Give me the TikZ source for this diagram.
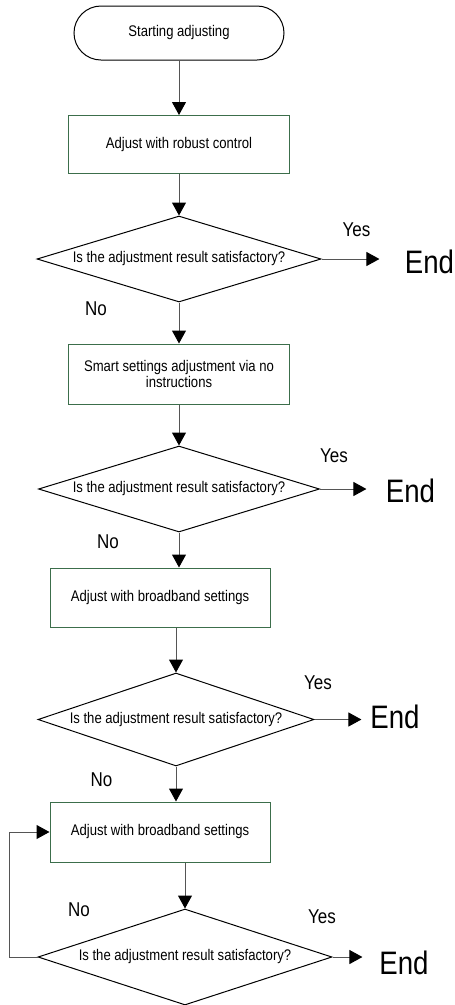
\documentclass[tikz,border=0pt]{standalone}
\usepackage{fontspec}
\setmainfont[FakeStretch=0.85]{Liberation Sans}
\usetikzlibrary{arrows.meta,shapes.geometric}
\definecolor{boxline}{RGB}{60,110,75}
\definecolor{wire}{RGB}{85,85,85}
\tikzset{
  term/.style={draw=black, rounded corners=27pt, minimum width=210pt,
               minimum height=54pt, inner sep=0pt},
  stepbox/.style={draw=boxline, minimum width=221pt, minimum height=58pt,
               inner sep=0pt, align=center},
  ask/.style={draw=black, diamond, aspect=3.3, inner sep=0pt},
  flow/.style={-{Triangle[length=13pt,width=14pt,color=black]}, wire},
  big/.style={font=\fontsize{32.5}{34}\selectfont, inner sep=0pt, anchor=base},
  tag/.style={font=\fontsize{20}{22}\selectfont, inner sep=0pt, anchor=base},
}

\begin{document}
\begin{tikzpicture}[x=1pt, y=-1pt, line width=1pt,
      font=\fontsize{15.4}{14}\selectfont]
  \useasboundingbox (0,0) rectangle (455,1005);
  % steps and questions
  \node[term] (st) at (179,33) {Starting adjusting};
  \node[stepbox] (a1) at (179,144.5) {Adjust with robust control};
  \node[ask, minimum width=284pt, minimum height=86pt] (q1) at (179,259) {Is the adjustment result satisfactory?};
  \node[stepbox, minimum height=60pt] (a2) at (179,374) {Smart settings adjustment via no\\instructions};
  \node[ask, minimum width=281pt, minimum height=86pt] (q2) at (179,489) {Is the adjustment result satisfactory?};
  \node[stepbox, minimum width=220pt, minimum height=59pt] (a3) at (160,597.5) {Adjust with broadband settings};
  \node[ask, minimum width=276pt, minimum height=93pt] (q3) at (176,719.5) {Is the adjustment result satisfactory?};
  \node[stepbox, minimum width=220pt, minimum height=60pt] (a4) at (160,832) {Adjust with broadband settings};
  \node[ask, minimum width=294pt, minimum height=96pt] (q4) at (185,957) {Is the adjustment result satisfactory?};
  % end marks
  \node[big] (e1) at (429.5,273) {End};
  \node[big] (e2) at (410.5,502) {End};
  \node[big] (e3) at (395,728) {End};
  \node[big] (e4) at (404,974) {End};
  % yes / no
  \node[tag] (y1) at (356.5,236) {Yes};
  \node[tag] (n1) at (96,315) {No};
  \node[tag] (y2) at (334,462) {Yes};
  \node[tag] (n2) at (108,548) {No};
  \node[tag] (y3) at (318,689) {Yes};
  \node[tag] (n3) at (101.5,786) {No};
  \node[tag] (y4) at (322,923) {Yes};
  \node[tag] (n4) at (79,916) {No};
  % connectors
  \draw[flow] (st) -- (a1);
  \draw[flow] (a1) -- (q1);
  \draw[flow] (q1) -- (a2);
  \draw[flow] (a2) -- (q2);
  \draw[flow] (q2.south) -- (q2.south |- a3.north);
  \draw[flow] (q3.north |- a3.south) -- (q3.north);
  \draw[flow] (q3.south) -- (q3.south |- a4.north);
  \draw[flow] (q4.north |- a4.south) -- (q4.north);
  \draw[flow] (q4.west) -- ++(-28,0) |- (a4.west);
  \draw[flow, shorten >=25pt] (q1.east) -- (q1.east -| e1.west);
  \draw[flow, shorten >=19pt] (q2.east) -- (q2.east -| e2.west);
  \draw[flow, shorten >=8.5pt] (q3.east) -- (q3.east -| e3.west);
  \draw[flow, shorten >=16.5pt] (q4.east) -- (q4.east -| e4.west);
\end{tikzpicture}
\end{document}
